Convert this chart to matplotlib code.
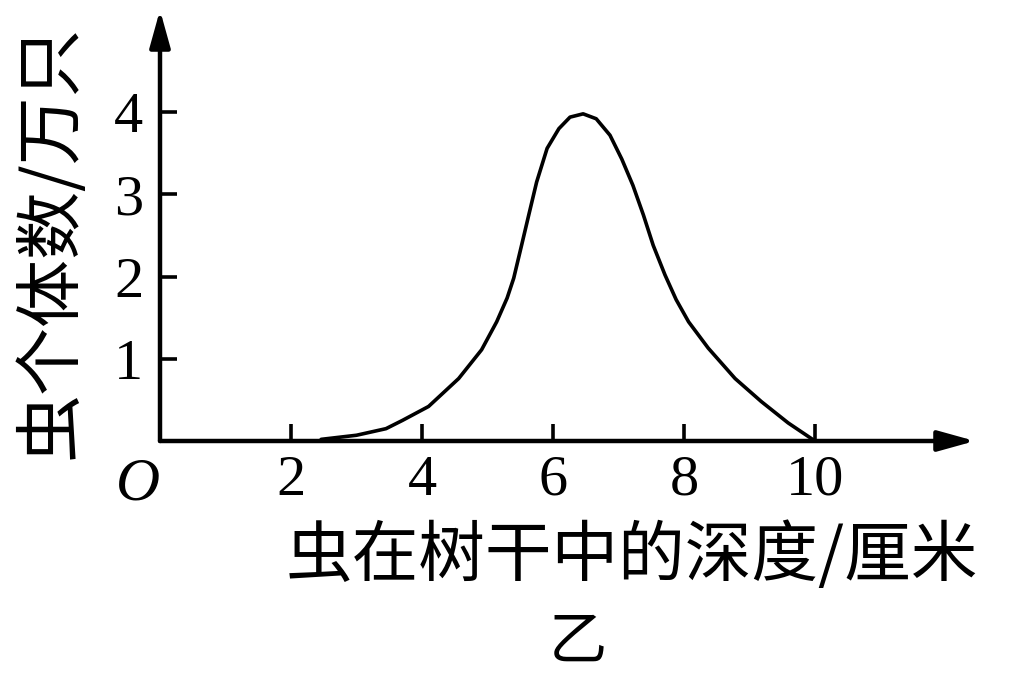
import matplotlib
matplotlib.use("Agg")
import matplotlib.pyplot as plt

# 虫在树干中的深度 (厘米) 与 虫个体数 (万只)
depth = [2.46, 3.00, 3.45, 3.70, 4.10, 4.56, 4.91, 5.14, 5.30, 5.40, 5.52,
         5.63, 5.75, 5.91, 6.09, 6.26, 6.46, 6.66, 6.87, 7.05, 7.22, 7.38,
         7.53, 7.71, 7.88, 8.07, 8.37, 8.78, 9.18, 9.59, 10.0]
count = [0.02, 0.07, 0.15, 0.25, 0.42, 0.76, 1.11, 1.45, 1.74, 1.98, 2.38,
         2.75, 3.15, 3.56, 3.80, 3.94, 3.98, 3.92, 3.72, 3.43, 3.11, 2.75,
         2.38, 2.02, 1.72, 1.45, 1.13, 0.76, 0.48, 0.22, 0.0]

x_ticks = [2, 4, 6, 8, 10]
y_ticks = [1, 2, 3, 4]
x_label = "虫在树干中的深度/厘米"
y_label = "虫个体数/万只"
caption = "乙"

W, H = 1013, 679
fig = plt.figure(figsize=(W / 100, H / 100), dpi=100)

# origin at about (160, 441) px, arrows reach about (975, 10)
x0, y0, x1, y1 = 160, 441, 975, 10
ax = fig.add_axes([x0 / W, (H - y0) / H, (x1 - x0) / W, (y0 - y1) / H])
ax.set_xlim(0, (x1 - x0) / 65.5)
ax.set_ylim(0, (y0 - y1) / 82.2)

ax.plot(depth, count, color="black", lw=2.6, solid_joinstyle="round",
        solid_capstyle="round")

for s in ax.spines.values():
    s.set_visible(False)

arrow = dict(arrowstyle="-|>,head_length=0.9,head_width=0.25", lw=3.2,
             color="black", mutation_scale=25, shrinkA=0, shrinkB=0)
ax.annotate("", xy=(1, 0), xytext=(0, 0), xycoords="axes fraction",
            arrowprops=arrow, annotation_clip=False)
ax.annotate("", xy=(0, 1), xytext=(0, 0), xycoords="axes fraction",
            arrowprops=arrow, annotation_clip=False)

serif = "Liberation Serif"
ax.set_xticks(x_ticks)
ax.set_yticks(y_ticks)
ax.tick_params(direction="in", length=12, width=2.6, pad=10)
ax.tick_params(axis="y", pad=12)
ax.set_xticklabels([str(v) for v in x_ticks], fontsize=42, family=serif)
ax.set_yticklabels([str(v) for v in y_ticks], fontsize=42, family=serif)

ax.text(-0.33, -0.2, "O", fontsize=44, family=serif, style="italic",
        ha="center", va="top", transform=ax.transData)

cjk = ["Noto Sans CJK SC", "DejaVu Sans"]
fig.text(52 / W, 1 - 242 / H, y_label, rotation=90, fontsize=49,
         family=cjk, ha="center", va="center")
fig.text(632 / W, 1 - 557 / H, x_label, fontsize=48, family=cjk,
         ha="center", va="center")
fig.text(578 / W, 1 - 642 / H, caption, fontsize=42, family=cjk,
         ha="center", va="center")

fig.savefig("out.png", dpi=100)
